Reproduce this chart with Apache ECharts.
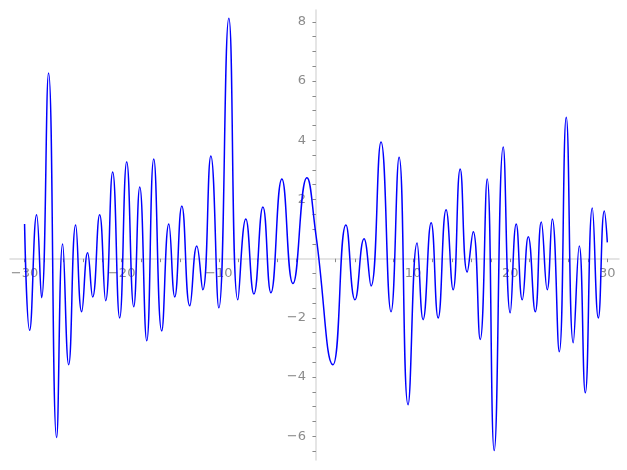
<!DOCTYPE html>
<html>
<head>
<meta charset="utf-8">
<script src="https://cdn.jsdelivr.net/npm/echarts@6/dist/echarts.min.js"></script>
<style>html,body{margin:0;padding:0;background:#fff}#c{width:627px;height:470px}</style>
</head>
<body>
<div id="c"></div>
<script>
// Curve samples (x, y) — local extrema and a few key points
const xs = [-30.0,-29.48,-28.76,-28.25,-27.53,-26.70,-26.08,-25.46,-24.74,-24.12,-23.51,-22.99,-22.27,-21.65,-20.93,-20.21,-19.48,-18.76,-18.14,-17.42,-16.70,-15.88,-15.15,-14.54,-13.81,-12.99,-12.27,-11.65,-10.82,-10.00,-8.97,-8.04,-7.22,-6.39,-5.46,-4.64,-3.51,-2.37,-0.93,0.0,1.75,3.09,4.02,4.95,5.67,6.70,7.73,8.56,9.48,10.41,11.03,11.86,12.58,13.40,14.12,14.85,15.57,16.19,16.91,17.63,18.35,19.28,20.00,20.62,21.24,21.86,22.58,23.20,23.81,24.33,25.05,25.77,26.49,27.11,27.73,28.45,29.07,29.69,30.0];
const ys = [1.17,-2.42,1.48,-1.32,6.27,-6.04,0.50,-3.58,1.14,-1.79,0.20,-1.29,1.48,-1.42,2.93,-2.00,3.27,-1.62,2.42,-2.77,3.37,-2.44,1.17,-1.29,1.78,-1.59,0.43,-1.05,3.47,-1.66,8.12,-1.39,1.34,-1.19,1.75,-1.15,2.69,-0.84,2.73,0.80,-3.58,1.14,-1.39,0.67,-0.92,3.94,-1.79,3.43,-4.93,0.53,-2.06,1.21,-2.00,1.65,-1.05,3.03,-0.45,0.91,-2.73,2.69,-6.48,3.77,-1.83,1.17,-1.39,0.74,-1.79,1.24,-1.05,1.34,-3.14,4.78,-2.84,0.43,-4.53,1.71,-2.00,1.61,0.55];
const xTickLabels = [-30,-20,-10,10,20,30];
const yTickLabels = [-6,-4,-2,2,4,6,8];
const xTicks = [-30,-28,-26,-24,-22,-20,-18,-16,-14,-12,-10,-8,-6,-4,-2,2,4,6,8,10,12,14,16,18,20,22,24,26,28,30];
const yTicks = [-6.5,-6,-5.5,-5,-4.5,-4,-3.5,-3,-2.5,-2,-1.5,-1,-0.5,0.5,1,1.5,2,2.5,3,3.5,4,4.5,5,5.5,6,6.5,7,7.5,8];

const data = xs.map((x, i) => [x, ys[i]]);
const fmt = v => String(v).replace('-', '\u2212');
const XMIN = -31.5, XMAX = 31.2, YMIN = -6.8, YMAX = 8.4;
const txt = {color: '#6e6e6e', fontFamily: 'DejaVu Sans', fontSize: 13};

const chart = echarts.init(document.getElementById('c'));
chart.setOption({
  animation: false,
  backgroundColor: '#fff',
  grid: {left: 10, right: 8, top: 10, bottom: 10, containLabel: false, outerBoundsMode: 'none'},
  xAxis: {
    type: 'value', min: XMIN, max: XMAX, position: 'bottom',
    axisLine: {show: true, onZero: true, lineStyle: {color: '#dcdcdc', width: 1.5}},
    axisTick: {show: true, customValues: xTicks, length: 3.5, lineStyle: {color: '#8a8a8a'}},
    axisLabel: {show: false},
    splitLine: {show: false}
  },
  yAxis: {
    type: 'value', min: YMIN, max: YMAX, position: 'left',
    axisLine: {show: true, onZero: true, lineStyle: {color: '#dcdcdc', width: 1.5}},
    axisTick: {show: true, customValues: yTicks, length: 3.5, lineStyle: {color: '#8a8a8a'}},
    axisLabel: {show: false},
    splitLine: {show: false}
  },
  series: [{
    type: 'line', data: data, smooth: 0.5, showSymbol: false, symbol: 'none',
    lineStyle: {color: '#0000ff', width: 1.5}, z: 5
  }, {
    type: 'scatter', silent: true, z: 1,
    data: xTickLabels.map(v => [v, 0]),
    symbolSize: 0.1, itemStyle: {color: 'rgba(0,0,0,0)'},
    label: Object.assign({show: true, position: 'bottom', distance: 8,
      formatter: p => fmt(p.value[0])}, txt)
  }, {
    type: 'scatter', silent: true, z: 1,
    data: yTickLabels.map(v => [0, v]),
    symbolSize: 0.1, itemStyle: {color: 'rgba(0,0,0,0)'},
    label: Object.assign({show: true, position: 'left', distance: 10,
      formatter: p => fmt(p.value[1])}, txt)
  }]
});
</script>
</body>
</html>
